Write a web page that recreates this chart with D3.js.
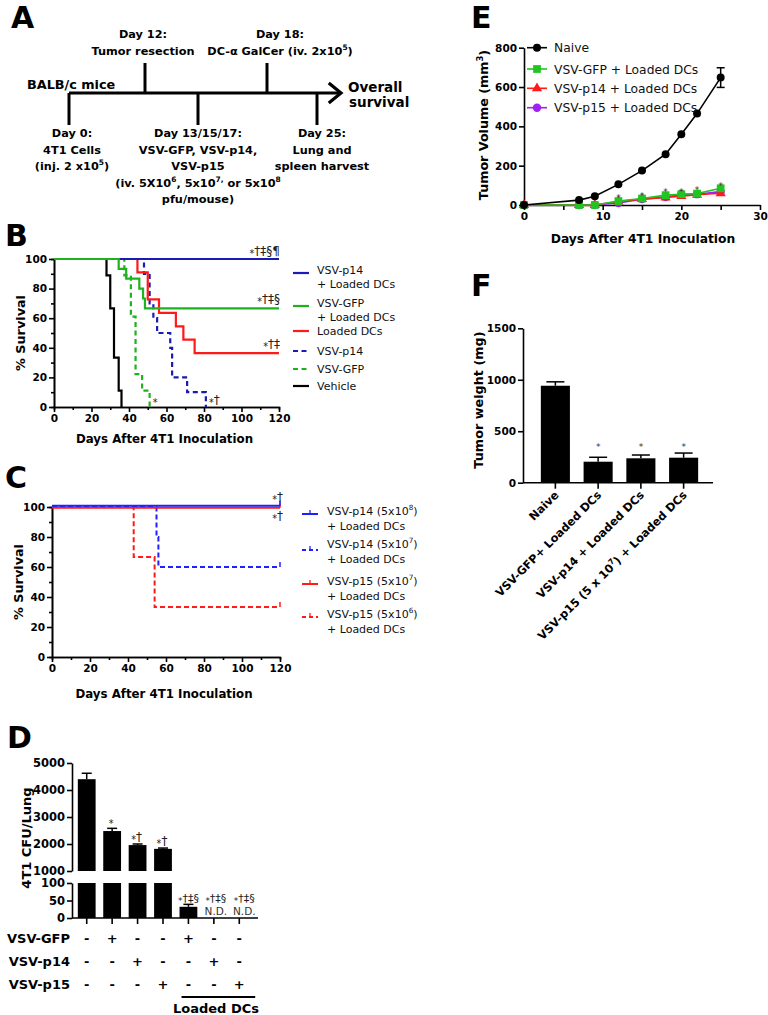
<!DOCTYPE html>
<html><head><meta charset="utf-8">
<script src="https://cdn.jsdelivr.net/npm/d3@7"></script>
<style>
body{margin:0;background:#fff}
svg{display:block}
text{font-family:"DejaVu Sans",Verdana,sans-serif}
</style>
</head><body>
<svg id="c" width="768" height="1015"></svg>
<script>
// ---------------- DATA ----------------
// Panel A timeline
const timelineDays = [0, 12, 15, 18, 25];
const timelineAbove = [
  {day: 12, lines: ["Day 12:", "Tumor resection"]},
  {day: 18, lines: ["Day 18:", "DC-α GalCer (iv. 2x10^{5})"]}
];
const timelineBelow = [
  {day: 0, lines: ["Day 0:", "4T1 Cells", "(inj. 2 x10^{5})"]},
  {day: 15, lines: ["Day 13/15/17:", "VSV-GFP, VSV-p14,", "VSV-p15", "(iv. 5X10^{6}, 5x10^{7,} or 5x10^{8}", "pfu/mouse)"]},
  {day: 25, lines: ["Day 25:", "Lung and", "spleen harvest"]}
];

// Panel B survival (day, % survival)
const bVehicle  = [[0,100],[28,88.9],[30,66.7],[32,33.3],[34.5,11.1],[36,0]];
const bVsvGfp   = [[0,100],[37.5,88.9],[41,61.1],[43.5,22.2],[47,11.1],[51,0]];
const bVsvP14   = [[0,100],[48,90],[51,70],[53,60],[55,50],[62,40],[63,20],[71,10],[81,0]];
const bLoaded   = [[0,100],[44.5,90.9],[50,72.7],[56,63.6],[65,54.5],[69,45.5],[75,36.4],[120,36.4]];
const bP14Dc    = [[0,100],[120,100]];
const bGfpDc    = [[0,100],[34.5,93.3],[38.5,86.7],[45.5,80],[47.5,73.3],[48.5,66.7],[120,66.7]];
const bLegend   = [["VSV-p14","+ Loaded DCs"],["VSV-GFP","+ Loaded DCs"],["Loaded DCs"],["VSV-p14"],["VSV-GFP"],["Vehicle"]];
const bSig      = ["*†‡§¶", "*†‡§", "*†‡", "*†", "*"];

// Panel C survival
const cP14hi = [[0,100],[120,100]];
const cP14lo = [[0,100],[55,80],[56,60],[120,60]];
const cP15hi = [[0,100],[120,100]];
const cP15lo = [[0,100],[43,66.7],[54,33.3],[120,33.3]];
const cLegend = [["VSV-p14 (5x10^{8})","+ Loaded DCs"],["VSV-p14 (5x10^{7})"," + Loaded DCs"],["VSV-p15 (5x10^{7})"," + Loaded DCs"],["VSV-p15 (5x10^{6})","+ Loaded  DCs"]];
const cSig = ["*†", "*†"];

// Panel D lung CFU
const dGroups = ["g1","g2","g3","g4","g5","g6","g7"];
const dValues = [4400, 2480, 1960, 1820, 32, null, null];
const dErrors = [220, 100, 40, 30, 7, 0, 0];
const dSig    = ["", "*", "*†", "*†", "*†‡§", "*†‡§", "*†‡§"];
const dND     = ["", "", "", "", "", "N.D.", "N.D."];
const dRowNames = ["VSV-GFP", "VSV-p14", "VSV-p15"];
const dRowGfp = ["-","+","-","-","+","-","-"];
const dRowP14 = ["-","-","+","-","-","+","-"];
const dRowP15 = ["-","-","-","+","-","-","+"];
const dTopTicks = [1000, 2000, 3000, 4000, 5000];
const dBotTicks = [0, 50, 100];

// Panel E tumor volume
const eDays   = [0, 7, 9, 12, 15, 18, 20, 22, 25];
const eNaive  = [0, 25, 45, 105, 175, 258, 360, 465, 648];
const eNaiveErr = [0, 0, 0, 5, 6, 8, 8, 8, 50];
const eGfp    = [0, 0, 0, 20, 33, 50, 55, 58, 85];
const eP14    = [0, 0, 0, 18, 30, 38, 45, 52, 60];
const eP15    = [0, 0, 0, 10, 30, 40, 55, 55, 68];
const eSigDays = [12, 15, 18, 20, 22, 25];
const eSigVals = [28, 42, 60, 62, 70, 92];
const eLegend = ["Naive", "VSV-GFP + Loaded DCs", "VSV-p14 + Loaded DCs", "VSV-p15 + Loaded DCs"];

// Panel F tumor weight
const fCats = ["Naive", "VSV-GFP+ Loaded DCs", "VSV-p14 + Loaded DCs", "VSV-p15 (5 x 10^{7}) + Loaded DCs"];
const fVals = [942, 204, 237, 243];
const fErrs = [38, 43, 32, 45];
const fSig  = ["", "*", "*", "*"];

// ---------------- HELPERS ----------------
const svg = d3.select("#c");
const BLUE = "#1a1ab4", GREEN = "#1fb21f", RED = "#ff1a1a", CBLUE = "#2020ff", PURPLE = "#a020f0", EGREEN = "#22c422";
const TICK = 10.5;

function rich(sel, str, fs) {
  const parts = str.split(/(\^\{[^}]*\})/).filter(p => p !== "");
  let raised = false;
  parts.forEach(p => {
    const m = p.match(/^\^\{([^}]*)\}$/);
    if (m) {
      sel.append("tspan").attr("font-size", fs * 0.66).attr("dy", -fs * 0.42).text(m[1]);
      raised = true;
    } else {
      const t = sel.append("tspan").text(p);
      if (raised) { t.attr("dy", fs * 0.42); raised = false; }
    }
  });
  return sel;
}
// '*' drawn smaller and slightly lowered, like the reference
function sigText(sel, str, fs) {
  let pend = 0;
  [...str].forEach(ch => {
    if (ch === "*") {
      sel.append("tspan").attr("font-size", fs * 0.8).attr("dy", 2 + pend).text("*");
      pend = -2;
    } else {
      sel.append("tspan").attr("dy", pend).text(ch);
      pend = 0;
    }
  });
  return sel;
}
function styleAxis(g, fs) {
  g.attr("font-family", null);
  g.select(".domain").attr("stroke", "#000").attr("stroke-width", 1.6);
  g.selectAll(".tick line").attr("stroke", "#000").attr("stroke-width", 1.6);
  g.selectAll(".tick text").attr("fill", "#000").attr("font-size", fs).attr("font-weight", "bold");
}
function letter(x, y, t) {
  svg.append("text").attr("x", x).attr("y", y).attr("font-size", 30).attr("font-weight", "bold").text(t);
}
const fmt = d3.format("d");

// ---------------- PANEL A ----------------
letter(11, 28, "A");
const tx = d3.scaleLinear().domain(timelineDays).range([69, 145, 198, 267, 317]);
const gA = svg.append("g");
const lineY = 93;
gA.append("line").attr("x1", tx(0)).attr("x2", 340).attr("y1", lineY).attr("y2", lineY)
  .attr("stroke", "#000").attr("stroke-width", 3.2);
gA.append("polyline").attr("points", "330,84 341,93 330,102").attr("fill", "none")
  .attr("stroke", "#000").attr("stroke-width", 3.2).attr("stroke-linecap", "square");
timelineAbove.forEach(e => {
  gA.append("line").attr("x1", tx(e.day)).attr("x2", tx(e.day)).attr("y1", 63).attr("y2", lineY)
    .attr("stroke", "#000").attr("stroke-width", 3);
});
timelineBelow.forEach(e => {
  gA.append("line").attr("x1", tx(e.day)).attr("x2", tx(e.day)).attr("y1", lineY).attr("y2", 125)
    .attr("stroke", "#000").attr("stroke-width", 3);
});
const AFS = 11.3;
timelineAbove.forEach(e => {
  e.lines.forEach((ln, i) => {
    const t = gA.append("text").attr("x", tx(e.day) + (e.day === 18 ? 13 : -2)).attr("y", 38 + i * 17)
      .attr("text-anchor", "middle").attr("font-weight", "bold").attr("font-size", AFS);
    rich(t, ln, AFS);
  });
});
timelineBelow.forEach(e => {
  e.lines.forEach((ln, i) => {
    const t = gA.append("text").attr("x", tx(e.day) + (e.day === 0 ? 3 : e.day === 25 ? 5 : 0)).attr("y", 137 + i * 16.6)
      .attr("text-anchor", "middle").attr("font-weight", "bold").attr("font-size", AFS);
    rich(t, ln, AFS);
  });
});
gA.append("text").attr("x", 27).attr("y", 89).attr("font-weight", "bold").attr("font-size", 12.8).text("BALB/c mice");
gA.append("text").attr("x", 348).attr("y", 92).attr("font-weight", "bold").attr("font-size", 13.5).text("Overall");
gA.append("text").attr("x", 349).attr("y", 107).attr("font-weight", "bold").attr("font-size", 13.5).text("survival");

// ---------------- PANEL B ----------------
letter(5, 246, "B");
const bx = d3.scaleLinear().domain([0, 120]).range([54, 279]);
const by = d3.scaleLinear().domain([0, 100]).range([407, 259]);
function survivalAxes(x, y, titleY) {
  const g = svg.append("g");
  const y0 = y.range()[0], x0 = x.range()[0];
  const xa = g.append("g").attr("transform", `translate(0,${y0})`)
    .call(d3.axisBottom(x).tickValues(d3.range(0, 121, 20)).tickFormat(fmt).tickSize(5).tickSizeOuter(0).tickPadding(3));
  styleAxis(xa, TICK);
  const xm = g.append("g").attr("transform", `translate(0,${y0})`)
    .call(d3.axisBottom(x).tickValues(d3.range(10, 121, 20)).tickSize(3).tickFormat(""));
  styleAxis(xm, TICK);
  const ya = g.append("g").attr("transform", `translate(${x0},0)`)
    .call(d3.axisLeft(y).tickValues(d3.range(0, 101, 20)).tickFormat(fmt).tickSize(5).tickSizeOuter(0).tickPadding(2));
  styleAxis(ya, TICK);
  const ym = g.append("g").attr("transform", `translate(${x0},0)`)
    .call(d3.axisLeft(y).tickValues(d3.range(10, 101, 20)).tickSize(3).tickFormat(""));
  styleAxis(ym, TICK);
  g.append("text").attr("x", (x.range()[0] + x.range()[1]) / 2 - 2).attr("y", titleY)
    .attr("text-anchor", "middle").attr("font-weight", "bold").attr("font-size", 11.8).text("Days After 4T1 Inoculation");
  g.append("text").attr("transform", `translate(${x0 - 29},${(y.range()[0] + y.range()[1]) / 2}) rotate(-90)`)
    .attr("text-anchor", "middle").attr("font-weight", "bold").attr("font-size", 12.8).text("% Survival");
}
survivalAxes(bx, by, 443);
const bLine = d3.line().x(d => bx(d[0])).y(d => by(d[1])).curve(d3.curveStepAfter);
const bSeries = [
  {d: bVehicle, c: "#000", dash: null},
  {d: bVsvGfp, c: GREEN, dash: "5,3.5"},
  {d: bVsvP14, c: BLUE, dash: "5,3.5"},
  {d: bLoaded, c: RED, dash: null},
  {d: bP14Dc, c: BLUE, dash: null},
  {d: bGfpDc, c: GREEN, dash: null}
];
bSeries.forEach(s => {
  svg.append("path").attr("d", bLine(s.d)).attr("fill", "none").attr("stroke", s.c)
    .attr("stroke-width", 2.2).attr("stroke-dasharray", s.dash);
});
const bSigPos = [[280, 100, -4, "end"], [280, 66.7, -5, "end"], [280, 36.4, -5, "end"], [81, 0, -3, "start"], [51, 0, -3, "start"]];
bSig.forEach((s, i) => {
  const p = bSigPos[i];
  const xx = p[3] === "end" ? p[0] : bx(p[0]) + 3;
  const t = svg.append("text").attr("x", xx).attr("y", by(p[1]) + p[2]).attr("text-anchor", p[3])
    .attr("font-size", 12).attr("fill", "#222");
  sigText(t, s, 12);
});
const bLegStyle = [[BLUE, null], [GREEN, null], [RED, null], [BLUE, "5,3.5"], [GREEN, "5,3.5"], ["#000", null]];
const bLegY = [273, 306, 331, 351, 369, 386];
bLegend.forEach((lab, i) => {
  svg.append("line").attr("x1", 293).attr("x2", 309).attr("y1", bLegY[i]).attr("y2", bLegY[i])
    .attr("stroke", bLegStyle[i][0]).attr("stroke-width", 2.2).attr("stroke-dasharray", bLegStyle[i][1]);
  lab.forEach((ln, j) => {
    svg.append("text").attr("x", 317).attr("y", bLegY[i] + 4 - (lab.length > 1 ? 3 : 0) + j * 14)
      .attr("font-size", 11).attr("fill", "#111").text(ln);
  });
});

// ---------------- PANEL C ----------------
letter(5, 488, "C");
const cx = d3.scaleLinear().domain([0, 120]).range([52, 280]);
const cy = d3.scaleLinear().domain([0, 100]).range([657, 507]);
survivalAxes(cx, cy, 698);
const cLine = d3.line().x(d => cx(d[0])).y(d => cy(d[1])).curve(d3.curveStepAfter);
const cSeries = [
  {d: cP15lo, c: RED, dash: "5,3", off: 0},
  {d: cP14lo, c: CBLUE, dash: "5,3", off: 0},
  {d: cP15hi, c: RED, dash: null, off: 0.8},
  {d: cP14hi, c: CBLUE, dash: null, off: -1.2}
];
cSeries.forEach(s => {
  const g = svg.append("g").attr("transform", `translate(0,${s.off})`);
  g.append("path").attr("d", cLine(s.d)).attr("fill", "none").attr("stroke", s.c)
    .attr("stroke-width", 2).attr("stroke-dasharray", s.dash);
  const last = s.d[s.d.length - 1];
  g.append("line").attr("x1", cx(last[0])).attr("x2", cx(last[0])).attr("y1", cy(last[1])).attr("y2", cy(last[1]) - 5)
    .attr("stroke", s.c).attr("stroke-width", 1.5);
});
cSig.forEach((s, i) => {
  const t = svg.append("text").attr("x", 283).attr("y", i === 0 ? 501 : 520).attr("text-anchor", "end")
    .attr("font-size", 12).attr("fill", "#222");
  sigText(t, s, 12);
});
const cLegStyle = [[CBLUE, null], [CBLUE, "4,3"], [RED, null], [RED, "4,3"]];
const cLegY = [514, 550, 584, 617];
cLegend.forEach((lab, i) => {
  svg.append("line").attr("x1", 302).attr("x2", 318).attr("y1", cLegY[i]).attr("y2", cLegY[i])
    .attr("stroke", cLegStyle[i][0]).attr("stroke-width", 2).attr("stroke-dasharray", cLegStyle[i][1]);
  svg.append("line").attr("x1", 310).attr("x2", 310).attr("y1", cLegY[i]).attr("y2", cLegY[i] - 4)
    .attr("stroke", cLegStyle[i][0]).attr("stroke-width", 1.3);
  lab.forEach((ln, j) => {
    const t = svg.append("text").attr("x", 327).attr("y", cLegY[i] + 1 + j * 14.5 - (i === 1 ? 3 : 0))
      .attr("font-size", 11).attr("fill", "#111");
    rich(t, ln, 11);
  });
});

// ---------------- PANEL D ----------------
letter(7, 748, "D");
const dx = d3.scaleBand().domain(dGroups).range([74, 252]).paddingInner(0.3).paddingOuter(0.15);
const dyTop = d3.scaleLinear().domain([1000, 5000]).range([871, 763]);
const dyBot = d3.scaleLinear().domain([0, 100]).range([918, 883]);
const gD = svg.append("g");
const dTopAx = gD.append("g").attr("transform", "translate(72,0)")
  .call(d3.axisLeft(dyTop).tickValues(dTopTicks).tickFormat(fmt).tickSize(5).tickSizeOuter(0).tickPadding(2));
styleAxis(dTopAx, 11.5);
const dBotAx = gD.append("g").attr("transform", "translate(72,0)")
  .call(d3.axisLeft(dyBot).tickValues(dBotTicks).tickFormat(fmt).tickSize(5).tickSizeOuter(0).tickPadding(2));
styleAxis(dBotAx, 11.5);
gD.append("line").attr("x1", 72).attr("x2", 258).attr("y1", dyBot(0)).attr("y2", dyBot(0))
  .attr("stroke", "#000").attr("stroke-width", 1.6);
const dSigShift = [0, 0, 0, 0, 0, 2, 5];
dGroups.forEach((gname, i) => {
  const cxp = dx(gname) + dx.bandwidth() / 2;
  gD.append("line").attr("x1", cxp).attr("x2", cxp).attr("y1", dyBot(0)).attr("y2", dyBot(0) + 6)
    .attr("stroke", "#000").attr("stroke-width", 1.6);
  const v = dValues[i];
  const bw = dx.bandwidth();
  if (v != null && v > 100) {
    gD.append("rect").attr("x", dx(gname)).attr("width", bw).attr("y", dyTop(v)).attr("height", dyTop(1000) - dyTop(v)).attr("fill", "#000");
    gD.append("rect").attr("x", dx(gname)).attr("width", bw).attr("y", dyBot(100)).attr("height", dyBot(0) - dyBot(100)).attr("fill", "#000");
    const et = dyTop(v + dErrors[i]);
    gD.append("line").attr("x1", cxp).attr("x2", cxp).attr("y1", dyTop(v)).attr("y2", et).attr("stroke", "#000").attr("stroke-width", 1.5);
    gD.append("line").attr("x1", cxp - 5).attr("x2", cxp + 5).attr("y1", et).attr("y2", et).attr("stroke", "#000").attr("stroke-width", 1.5);
    if (dSig[i]) {
      const t = gD.append("text").attr("x", cxp - 1).attr("y", et - 3).attr("text-anchor", "middle").attr("font-size", 12).attr("fill", "#222");
      sigText(t, dSig[i], 12);
    }
  } else {
    if (v != null) {
      gD.append("rect").attr("x", dx(gname)).attr("width", bw).attr("y", dyBot(v)).attr("height", dyBot(0) - dyBot(v)).attr("fill", "#000");
      const et = dyBot(v + dErrors[i]);
      gD.append("line").attr("x1", cxp).attr("x2", cxp).attr("y1", dyBot(v)).attr("y2", et).attr("stroke", "#000").attr("stroke-width", 1.5);
      gD.append("line").attr("x1", cxp - 5).attr("x2", cxp + 5).attr("y1", et).attr("y2", et).attr("stroke", "#000").attr("stroke-width", 1.5);
    }
    const t = gD.append("text").attr("x", cxp + dSigShift[i]).attr("y", 902).attr("text-anchor", "middle").attr("font-size", 11).attr("fill", "#222");
    sigText(t, dSig[i], 11);
  }
  if (dND[i]) {
    gD.append("text").attr("x", cxp + dSigShift[i]).attr("y", 915).attr("text-anchor", "middle").attr("font-size", 10.5).attr("fill", "#333").text(dND[i]);
  }
});
gD.append("text").attr("transform", "translate(31,838) rotate(-90)").attr("text-anchor", "middle")
  .attr("font-weight", "bold").attr("font-size", 13).text("4T1 CFU/Lung");
const dRows = [dRowGfp, dRowP14, dRowP15];
dRowNames.forEach((nm, r) => {
  const yy = 943 + r * 23;
  gD.append("text").attr("x", 70).attr("y", yy).attr("text-anchor", "end").attr("font-weight", "bold").attr("font-size", 13).text(nm);
  dRows[r].forEach((sym, i) => {
    const cxp = dx(dGroups[i]) + dx.bandwidth() / 2;
    gD.append("text").attr("x", cxp).attr("y", yy).attr("text-anchor", "middle").attr("font-weight", "bold").attr("font-size", 13).text(sym);
  });
});
gD.append("line").attr("x1", dx("g5") + 2).attr("x2", dx("g7") + dx.bandwidth() + 7).attr("y1", 997).attr("y2", 997)
  .attr("stroke", "#000").attr("stroke-width", 2.2);
gD.append("text").attr("x", 216).attr("y", 1013).attr("text-anchor", "middle").attr("font-weight", "bold").attr("font-size", 13).text("Loaded DCs");

// ---------------- PANEL E ----------------
letter(471, 28, "E");
const ex = d3.scaleLinear().domain([0, 30]).range([524, 760]);
const ey = d3.scaleLinear().domain([0, 800]).range([205, 47.7]);
const gE = svg.append("g");
const exa = gE.append("g").attr("transform", "translate(0,205)")
  .call(d3.axisBottom(ex).tickValues(d3.range(0, 31, 5)).tickSize(5).tickSizeOuter(0).tickPadding(3)
    .tickFormat(d => d % 10 === 0 ? d : ""));
styleAxis(exa, TICK);
const eya = gE.append("g").attr("transform", "translate(524,0)")
  .call(d3.axisLeft(ey).tickValues([0, 200, 400, 600, 800]).tickFormat(fmt).tickSize(5).tickSizeOuter(0).tickPadding(2));
styleAxis(eya, TICK);
gE.append("text").attr("x", 643).attr("y", 243).attr("text-anchor", "middle").attr("font-weight", "bold").attr("font-size", 12.3).text("Days After 4T1 Inoculation");
const eyt = gE.append("text").attr("transform", "translate(488,125) rotate(-90)").attr("text-anchor", "middle")
  .attr("font-weight", "bold").attr("font-size", 12.7);
rich(eyt, "Tumor Volume (mm^{3})", 12.7);
const eLine = d3.line().x((d, i) => ex(eDays[i])).y(d => ey(d));
const eSeries = [
  {v: eP15, c: PURPLE, sym: d3.symbol().type(d3.symbolCircle).size(55)},
  {v: eP14, c: RED, sym: d3.symbol().type(d3.symbolTriangle).size(45)},
  {v: eGfp, c: EGREEN, sym: d3.symbol().type(d3.symbolSquare).size(60)},
  {v: eNaive, c: "#000", sym: d3.symbol().type(d3.symbolCircle).size(50)}
];
eNaive.forEach((v, i) => {
  if (eNaiveErr[i] < 10) return;
  const xx = ex(eDays[i]);
  gE.append("line").attr("x1", xx).attr("x2", xx).attr("y1", ey(v - eNaiveErr[i])).attr("y2", ey(v + eNaiveErr[i])).attr("stroke", "#000").attr("stroke-width", 1.5);
  [v - eNaiveErr[i], v + eNaiveErr[i]].forEach(w => gE.append("line").attr("x1", xx - 4).attr("x2", xx + 4).attr("y1", ey(w)).attr("y2", ey(w)).attr("stroke", "#000").attr("stroke-width", 1.5));
});
eSeries.forEach(s => {
  gE.append("path").attr("d", eLine(s.v)).attr("fill", "none").attr("stroke", s.c).attr("stroke-width", 1.6);
  s.v.forEach((v, i) => {
    gE.append("path").attr("d", s.sym()).attr("transform", `translate(${ex(eDays[i])},${ey(v)})`).attr("fill", s.c);
  });
});
eSigDays.forEach((d, i) => {
  gE.append("text").attr("x", ex(d)).attr("y", ey(eSigVals[i]) + 2).attr("text-anchor", "middle").attr("font-size", 9).attr("fill", "#333").text("*");
});
const eLegY = [47.7, 69, 88.3, 107.7];
const eLegSym = [eSeries[3], eSeries[2], eSeries[1], eSeries[0]];
eLegend.forEach((lab, i) => {
  gE.append("line").attr("x1", 527).attr("x2", 547).attr("y1", eLegY[i]).attr("y2", eLegY[i]).attr("stroke", eLegSym[i].c).attr("stroke-width", 1.6);
  gE.append("path").attr("d", eLegSym[i].sym()).attr("transform", `translate(537,${eLegY[i]})`).attr("fill", eLegSym[i].c);
  gE.append("text").attr("x", 554).attr("y", eLegY[i] + 4.5).attr("font-size", 12.3).attr("fill", "#111").text(lab);
});

// ---------------- PANEL F ----------------
letter(471, 296, "F");
const fx = d3.scaleBand().domain(fCats).range([534, 705]).paddingInner(0.32).paddingOuter(0.16);
const fy = d3.scaleLinear().domain([0, 1500]).range([482.7, 328.3]);
const gF = svg.append("g");
fCats.forEach((c, i) => {
  const bx0 = fx(c), bw = fx.bandwidth(), cxp = bx0 + bw / 2;
  const et = fy(fVals[i] + fErrs[i]);
  gF.append("line").attr("x1", cxp).attr("x2", cxp).attr("y1", fy(fVals[i])).attr("y2", et).attr("stroke", "#000").attr("stroke-width", 1.5);
  gF.append("line").attr("x1", cxp - 9).attr("x2", cxp + 9).attr("y1", et).attr("y2", et).attr("stroke", "#000").attr("stroke-width", 1.5);
  gF.append("rect").attr("x", bx0).attr("width", bw).attr("y", fy(fVals[i])).attr("height", fy(0) - fy(fVals[i])).attr("fill", "#000");
  if (fSig[i]) gF.append("text").attr("x", cxp).attr("y", 450).attr("text-anchor", "middle").attr("font-size", 9).attr("fill", "#333").text(fSig[i]);
  gF.append("line").attr("x1", cxp).attr("x2", cxp).attr("y1", fy(0)).attr("y2", fy(0) + 6).attr("stroke", "#000").attr("stroke-width", 1.6);
  const t = gF.append("text").attr("transform", `translate(${cxp + 4},${fy(0) + 13}) rotate(-45)`)
    .attr("text-anchor", "end").attr("font-weight", "bold").attr("font-size", 11.4);
  rich(t, c, 11.4);
});
gF.append("line").attr("x1", 523).attr("x2", 713).attr("y1", fy(0)).attr("y2", fy(0)).attr("stroke", "#000").attr("stroke-width", 1.6);
const fya = gF.append("g").attr("transform", "translate(523,0)")
  .call(d3.axisLeft(fy).tickValues([0, 500, 1000, 1500]).tickFormat(fmt).tickSize(5).tickSizeOuter(0).tickPadding(2));
styleAxis(fya, TICK);
gF.append("text").attr("transform", "translate(483,400) rotate(-90)").attr("text-anchor", "middle")
  .attr("font-weight", "bold").attr("font-size", 12.8).text("Tumor weight  (mg)");
</script>
</body></html>
